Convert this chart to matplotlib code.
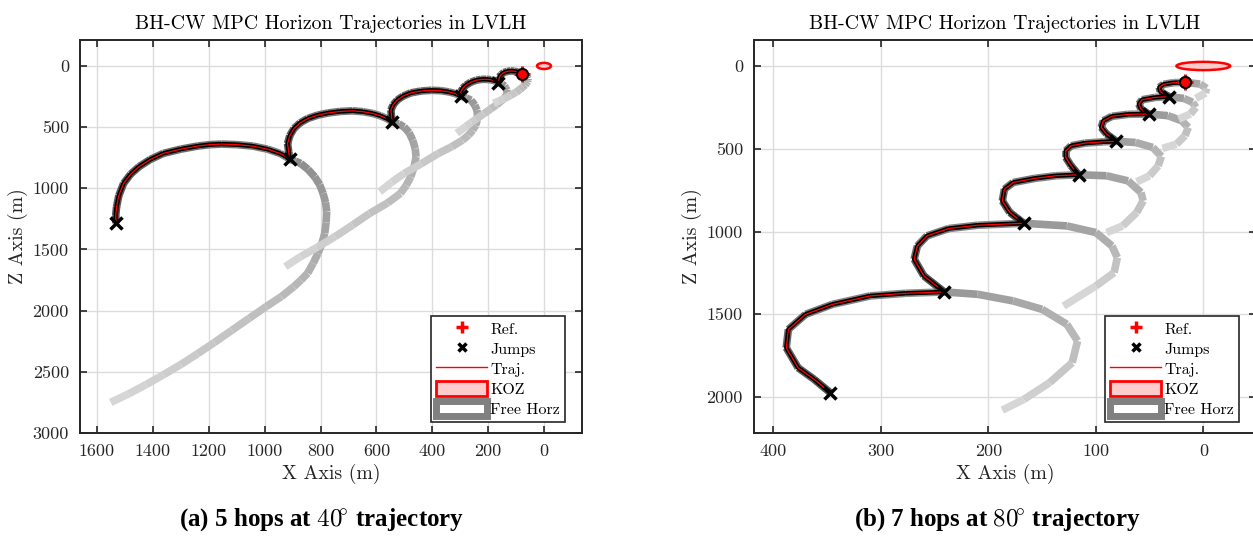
import numpy as np
import matplotlib
matplotlib.use("Agg")
import matplotlib.pyplot as plt
from matplotlib.collections import LineCollection
from matplotlib.patches import Ellipse, Patch
from matplotlib.lines import Line2D

plt.rcParams["font.family"] = "cmr10"
plt.rcParams["mathtext.fontset"] = "cm"
plt.rcParams["axes.formatter.use_mathtext"] = True

# ---- (a) 5 hops at 40 deg : traveled arcs (far -> near) ----
a_hop_x = [
    [1532, 1533, 1530, 1522, 1505, 1480, 1450, 1410, 1363, 1300, 1240, 1195,
     1154, 1100, 1043, 990, 945, 925, 911],
    [911, 914, 918, 910, 895, 873, 846, 810, 772, 730, 686, 648, 612, 585, 563, 544],
    [544, 546, 548, 540, 526, 505, 477, 440, 403, 370, 341, 320, 304, 296],
    [296, 297, 298, 291, 280, 262, 243, 225, 206, 190, 175, 168, 163],
    [163, 161, 160, 153, 144, 132, 119, 106, 95, 86, 79],
]
a_hop_z = [
    [1286, 1220, 1150, 1060, 960, 885, 824, 765, 715, 680, 655, 643,
     639, 643, 655, 680, 715, 740, 764],
    [764, 700, 634, 570, 511, 465, 430, 402, 384, 372, 367, 374, 389, 408, 430, 457],
    [457, 410, 362, 318, 280, 247, 220, 205, 199, 202, 212, 224, 239, 248],
    [248, 230, 212, 183, 158, 133, 117, 110, 109, 113, 122, 128, 136],
    [136, 112, 90, 70, 54, 45, 41, 43, 49, 55, 63],
]
# free horizon continuation after each hop end
a_free_x = [
    [911, 890, 871, 845, 821, 803, 791, 782, 778, 780, 785, 795, 809, 826, 846,
     870, 895, 940, 994, 1055, 1117, 1180, 1240, 1300, 1363, 1425, 1487, 1551],
    [544, 520, 501, 483, 470, 461, 458, 465, 477, 493, 514, 560, 624, 685, 748,
     810, 871, 926],
    [296, 278, 261, 248, 240, 238, 239, 245, 255, 270, 292, 330, 378, 440, 501,
     545, 588],
    [163, 150, 141, 137, 133, 132, 134, 137, 145, 155, 170, 190, 215, 240, 260,
     280, 312],
    [79, 73, 68, 63, 60, 58, 58, 59, 62, 67, 75, 86, 100, 120, 140, 160, 181],
]
a_free_z = [
    [764, 778, 797, 845, 906, 970, 1042, 1115, 1191, 1280, 1368, 1450, 1531, 1612,
     1694, 1750, 1803, 1885, 1966, 2062, 2160, 2260, 2352, 2440, 2525, 2605, 2680, 2750],
    [457, 475, 498, 545, 607, 675, 743, 825, 906, 975, 1042, 1120, 1205, 1300,
     1395, 1480, 1558, 1640],
    [248, 262, 280, 320, 362, 400, 443, 485, 525, 565, 607, 660, 715, 800, 879,
     950, 1028],
    [136, 150, 165, 180, 198, 215, 232, 250, 270, 290, 318, 350, 390, 430, 462,
     495, 550],
    [63, 68, 75, 85, 95, 105, 115, 128, 140, 155, 170, 192, 215, 240, 265, 285, 305],
]
a_jump_x = [1532, 911, 544, 296, 163]
a_jump_z = [1286, 764, 457, 248, 136]
a_ref = (79, 63)

# ---- (b) 7 hops at 80 deg ----
b_hop_x = [
    [347, 362, 377, 388, 386, 370, 345, 310, 277, 241],
    [241, 260, 269, 266, 257, 237, 210, 167],
    [167, 180, 187, 185, 177, 157, 137, 116],
    [116, 123, 128, 128, 123, 110, 93, 81],
    [81, 90, 95, 93, 85, 70, 51],
    [51, 58, 60, 57, 45, 32],
    [32, 40, 41, 37, 28, 17],
]
b_hop_z = [
    [1974, 1893, 1823, 1702, 1591, 1500, 1440, 1389, 1373, 1365],
    [1365, 1268, 1167, 1087, 1026, 982, 962, 950],
    [950, 885, 815, 744, 704, 679, 663, 657],
    [657, 603, 552, 512, 482, 466, 458, 455],
    [455, 411, 371, 331, 304, 292, 290],
    [290, 260, 230, 204, 190, 185],
    [185, 155, 129, 111, 101, 99],
]
b_free_x = [
    [241, 210, 177, 150, 127, 117, 122, 143, 167, 187],
    [167, 127, 100, 85, 80, 83, 100, 130],
    [116, 90, 70, 58, 56, 62, 75, 90],
    [81, 63, 47, 39, 42, 50, 62],
    [51, 33, 20, 14, 17, 25, 38],
    [32, 18, 10, 7, 12, 23],
    [17, 3, -3, -2, 7],
]
b_free_z = [
    [1365, 1379, 1419, 1470, 1560, 1661, 1792, 1913, 2014, 2079],
    [950, 966, 1006, 1087, 1157, 1248, 1329, 1450],
    [657, 663, 694, 764, 815, 885, 966, 1006],
    [455, 462, 492, 546, 603, 663, 700],
    [290, 300, 331, 371, 421, 472, 498],
    [185, 196, 220, 250, 290, 321],
    [99, 109, 135, 163, 196],
]
b_jump_x = [347, 241, 167, 116, 81, 51, 32]
b_jump_z = [1974, 1365, 950, 657, 455, 290, 185]
b_ref = (17, 99)

koz_radius = 25

a_xticks = [1600, 1400, 1200, 1000, 800, 600, 400, 200, 0]
a_zticks = [0, 500, 1000, 1500, 2000, 2500, 3000]
b_xticks = [400, 300, 200, 100, 0]
b_zticks = [0, 500, 1000, 1500, 2000]

tick_col = "#262626"


def draw_panel(ax, hop_x, hop_z, free_x, free_z, jump_x, jump_z, ref,
               xlim, zlim, xticks, zticks):
    # gray horizons, dark -> light along each horizon
    for hx, hz, fx, fz in zip(hop_x, hop_z, free_x, free_z):
        px = np.array(hx + fx[1:], dtype=float)
        pz = np.array(hz + fz[1:], dtype=float)
        pts = np.column_stack([px, pz]).reshape(-1, 1, 2)
        segs = np.concatenate([pts[:-1], pts[1:]], axis=1)
        g = np.linspace(0.33, 0.84, len(segs))
        cols = [(v, v, v) for v in g]
        lc = LineCollection(segs, colors=cols, linewidths=5.5,
                            capstyle="butt", joinstyle="round", zorder=2)
        ax.add_collection(lc)
    tx = np.concatenate([np.array(h[1:] if i else h) for i, h in enumerate(hop_x)])
    tz = np.concatenate([np.array(h[1:] if i else h) for i, h in enumerate(hop_z)])
    ax.plot(tx, tz, color="black", lw=3.2, zorder=3, solid_joinstyle="round")
    ax.plot(tx, tz, color="red", lw=0.9, zorder=4)
    ax.plot(jump_x, jump_z, "x", color="black", ms=8.5, mew=2.5, zorder=5)
    ax.plot(ref[0], ref[1], "+", color="red", ms=12, mew=2.2, zorder=5)
    ax.plot(ref[0], ref[1], "o", mfc="red", mec="black", ms=8, mew=1.5, zorder=6)
    ax.add_patch(Ellipse((0, 0), 2 * koz_radius, 2 * koz_radius,
                         facecolor="#ffcccc", edgecolor="red", lw=1.8, zorder=4))

    ax.set_xlim(*xlim)
    ax.set_ylim(*zlim)
    ax.set_xticks(xticks)
    ax.set_xticklabels([str(t) for t in xticks])
    ax.set_yticks(zticks)
    ax.set_yticklabels([str(t) for t in zticks])
    ax.grid(True, color="#dcdcdc", lw=1.0)
    ax.set_axisbelow(True)
    ax.tick_params(direction="in", top=True, right=True, length=5, width=1.2,
                   labelsize=13, colors=tick_col, pad=8)
    for s in ax.spines.values():
        s.set_color(tick_col)
        s.set_linewidth(1.4)
    ax.set_title("BH-CW MPC Horizon Trajectories in LVLH", fontsize=14.3, pad=8)
    ax.set_xlabel("X Axis (m)", fontsize=14.3, color=tick_col, labelpad=3)
    ax.set_ylabel("Z Axis (m)", fontsize=14.3, color=tick_col, labelpad=3)

    handles = [
        Line2D([], [], ls="none", marker="+", color="red", ms=8, mew=2.5),
        Line2D([], [], ls="none", marker="x", color="black", ms=6, mew=2.5),
        Line2D([], [], color="red", lw=1.0),
        Patch(facecolor="#ffcccc", edgecolor="red", lw=2),
        Patch(facecolor="white", edgecolor="#808080", lw=5),
    ]
    leg = ax.legend(handles, ["Ref.", "Jumps", "Traj.", "KOZ", "Free Horz"],
                    loc="lower right", bbox_to_anchor=(0.966, 0.028),
                    fontsize=11.5, fancybox=False, edgecolor=tick_col,
                    framealpha=1, handlelength=3.2, handleheight=1.1,
                    handletextpad=0.2, labelspacing=0.25, borderpad=0.3,
                    borderaxespad=0)
    leg.get_frame().set_linewidth(1.2)
    leg.set_zorder(10)


fig = plt.figure(figsize=(12.53, 5.36), dpi=100)
ax1 = fig.add_axes([80 / 1253, 103 / 536, 502 / 1253, 393 / 536])
ax2 = fig.add_axes([754 / 1253, 103 / 536, 502 / 1253, 393 / 536])

draw_panel(ax1, a_hop_x, a_hop_z, a_free_x, a_free_z, a_jump_x, a_jump_z, a_ref,
           (1661, -136), (3000, -212), a_xticks, a_zticks)
draw_panel(ax2, b_hop_x, b_hop_z, b_free_x, b_free_z, b_jump_x, b_jump_z, b_ref,
           (418, -49), (2217, -157), b_xticks, b_zticks)

cap_font = dict(family="Liberation Serif", weight="bold", fontsize=18)
fig.text(322 / 1253, 1 - 520 / 536, r"(a) 5 hops at $40\!^{\circ}$ trajectory",
         ha="center", va="center", **cap_font)
fig.text(997 / 1253, 1 - 520 / 536, r"(b) 7 hops at $80\!^{\circ}$ trajectory",
         ha="center", va="center", **cap_font)

fig.savefig("out.png", dpi=100)
